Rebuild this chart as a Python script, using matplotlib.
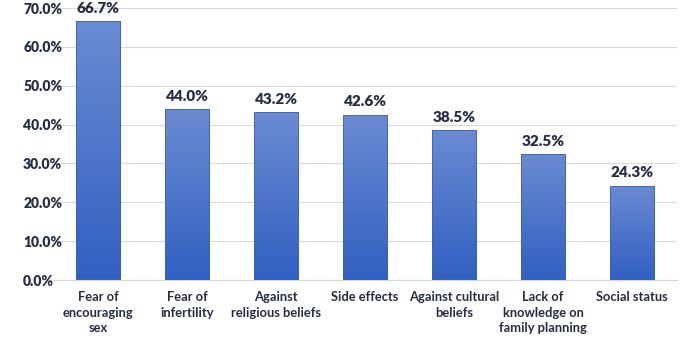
import numpy as np
import matplotlib.pyplot as plt
from matplotlib.colors import LinearSegmentedColormap

categories = [
    "Fear of\nencouraging\nsex",
    "Fear of\ninfertility",
    "Against\nreligious beliefs",
    "Side effects",
    "Against cultural\nbeliefs",
    "Lack of\nknowledge on\nfamily planning",
    "Social status",
]
values = [66.7, 44.0, 43.2, 42.6, 38.5, 32.5, 24.3]

plt.rcParams['font.family'] = ['Lato', 'DejaVu Sans']
plt.rcParams['font.weight'] = 'bold'
text_color = "#252d45"

fig = plt.figure(figsize=(6.8, 3.37), dpi=100)
ax = fig.add_axes([0.079, 0.169, 0.916, 0.807])

x = np.arange(len(categories))
bars = ax.bar(x, values, width=0.5, color="none", edgecolor="#3a62b8", linewidth=0.6, zorder=3)

# gradient fill inside every bar
cmap = LinearSegmentedColormap.from_list("grad", ["#3060c2", "#6b8bd2"])
grad = np.linspace(0, 1, 256).reshape(-1, 1)
for b in bars:
    x0, w, h = b.get_x(), b.get_width(), b.get_height()
    im = ax.imshow(grad, cmap=cmap, aspect="auto", origin="lower",
                   extent=(x0, x0 + w, 0, h), zorder=2)
    im.set_clip_path(b)

for xi, v in zip(x, values):
    ax.text(xi, v + 1.6, f"{v:.1f}%", ha="center", va="bottom",
            fontsize=11, fontweight="heavy", color=text_color)

ax.set_xlim(-0.5, len(categories) - 0.5)
ax.set_ylim(0, 70)
ax.set_yticks(np.arange(0, 71, 10))
ax.set_yticklabels([f"{t:.1f}%" for t in np.arange(0, 71, 10)])
ax.set_xticks(x)
ax.set_xticklabels(categories, linespacing=1.35)

ax.tick_params(axis="both", length=0, colors=text_color)
ax.tick_params(axis="y", pad=22, labelsize=10)
ax.tick_params(axis="x", pad=8, labelsize=9.3)
for lbl in ax.get_yticklabels():
    lbl.set_horizontalalignment("left")
    lbl.set_fontweight("heavy")
for lbl in ax.get_xticklabels():
    lbl.set_fontweight("bold")

ax.grid(axis="y", color="#d9d9d9", linewidth=0.8, zorder=0)
ax.set_axisbelow(True)
for s in ["top", "right", "left"]:
    ax.spines[s].set_visible(False)
ax.spines["bottom"].set_color("#d0d5e0")

fig.savefig("out.png", dpi=100)
